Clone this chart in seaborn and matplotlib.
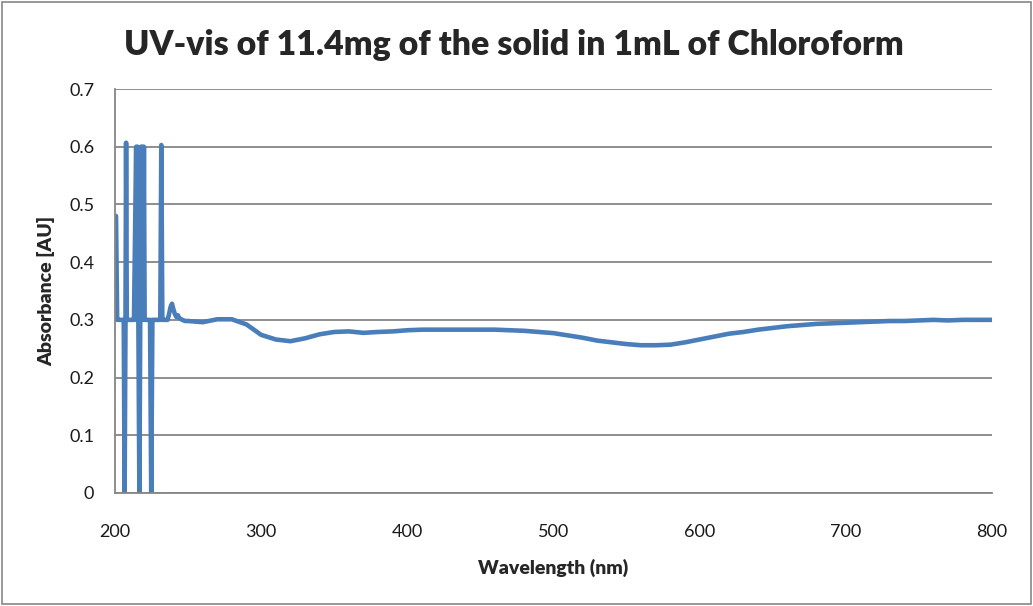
import numpy as np
import pandas as pd
import matplotlib
matplotlib.use('Agg')
import matplotlib.pyplot as plt
import seaborn as sns
from matplotlib.patches import Rectangle

# noisy start of the scan (detector saturation region)
wl_start = [200.7, 201.5, 203, 205, 206, 206.6, 207.2, 207.6, 208.1, 209,
            211, 213, 214.5, 215, 215.5, 216, 216.7, 217.3, 217.8, 218.3,
            218.8, 219.3, 219.8, 220.3, 221, 222, 224, 224.8, 225.6, 227,
            229, 231, 231.7, 232.4, 234, 236, 237, 238, 239, 240,
            241, 242, 243, 244, 246, 248]
abs_start = [0.48, 0.30, 0.30, 0.30, 0.30, 0.0, 0.30, 0.607, 0.30, 0.30,
             0.30, 0.30, 0.60, 0.30, 0.60, 0.30, 0.0, 0.30, 0.60, 0.30,
             0.60, 0.30, 0.60, 0.30, 0.30, 0.30, 0.30, 0.0, 0.30, 0.30,
             0.30, 0.30, 0.603, 0.30, 0.30, 0.30, 0.31, 0.322, 0.328, 0.318,
             0.31, 0.305, 0.308, 0.303, 0.300, 0.298]

# rest of the spectrum, every 10 nm
wl_main = list(range(250, 801, 10))
abs_main = [0.298, 0.296, 0.301, 0.301, 0.292, 0.274, 0.266, 0.263, 0.268, 0.275,
            0.279, 0.280, 0.2775, 0.279, 0.280, 0.282, 0.283, 0.283, 0.283, 0.283,
            0.283, 0.283, 0.282, 0.281, 0.279, 0.277, 0.273, 0.269, 0.264, 0.261,
            0.258, 0.256, 0.256, 0.257, 0.261, 0.266, 0.271, 0.276, 0.279, 0.283,
            0.286, 0.289, 0.291, 0.293, 0.294, 0.295, 0.296, 0.297, 0.298, 0.298,
            0.299, 0.300, 0.299, 0.300, 0.300, 0.300]

x_ticks = [200, 300, 400, 500, 600, 700, 800]
y_ticks = [0, 0.1, 0.2, 0.3, 0.4, 0.5, 0.6, 0.7]
y_tick_labels = ['0', '0.1', '0.2', '0.3', '0.4', '0.5', '0.6', '0.7']

df = pd.DataFrame({'wavelength': wl_start + wl_main,
                   'absorbance': abs_start + abs_main})

sns.set_style('white')
plt.rcParams['font.family'] = ['Lato', 'DejaVu Sans']

grid_col = '#868686'
fig = plt.figure(figsize=(10.33, 6.06), dpi=100)
ax = fig.add_axes([0.1113, 0.1865, 0.849, 0.6666])

sns.lineplot(data=df, x='wavelength', y='absorbance', ax=ax, color='#4A7EBB',
             linewidth=3.3, estimator=None, sort=False)

ax.set_xlim(200, 800)
ax.set_ylim(0, 0.7)
ax.set_xticks(x_ticks)
ax.set_yticks(y_ticks)
ax.set_yticklabels(y_tick_labels)
ax.yaxis.grid(True, color=grid_col, linewidth=1.3)
ax.set_axisbelow(True)
for s in ['top', 'right']:
    ax.spines[s].set_visible(False)
for s in ['left', 'bottom']:
    ax.spines[s].set_color(grid_col)
    ax.spines[s].set_linewidth(1.3)
ax.tick_params(axis='both', direction='out', length=6, width=1.3, color=grid_col,
               labelsize=13, labelcolor='#1a1a1a')
ax.tick_params(axis='x', pad=16)
ax.tick_params(axis='y', pad=9)

ax.set_xlabel('Wavelength (nm)', fontsize=14, fontweight='heavy', labelpad=14)
ax.set_ylabel('Absorbance [AU]', fontsize=14, fontweight='heavy', labelpad=10)
fig.text(0.497, 0.925, 'UV-vis of 11.4mg of the solid in 1mL of Chloroform',
         ha='center', va='center', fontsize=24.4, fontweight='heavy')

fig.patches.append(Rectangle((0.002, 0.003), 0.996, 0.994, transform=fig.transFigure,
                             fill=False, edgecolor=grid_col, linewidth=1.2))

fig.savefig('out.png', dpi=100)
